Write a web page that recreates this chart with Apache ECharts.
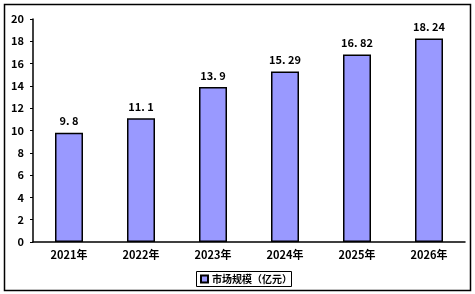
<!DOCTYPE html>
<html><head><meta charset="utf-8">
<script src="https://cdn.jsdelivr.net/npm/echarts@6/dist/echarts.min.js"></script>
<style>html,body{margin:0;padding:0;background:#fff}#c{width:475px;height:294px}</style>
</head><body><div id="c"></div>
<script>
const categories = ['2021年','2022年','2023年','2024年','2025年','2026年'];
const values = [9.8, 11.1, 13.9, 15.29, 16.82, 18.24];
const labels = ['9. 8','11. 1','13. 9','15. 29','16. 82','18. 24'];
const seriesName = '市场规模（亿元）';
const font = '"Noto Sans CJK SC", "DejaVu Sans", sans-serif';
const chart = echarts.init(document.getElementById('c'), null, {renderer:'canvas'});
chart.setOption({
  animation:false,
  graphic:[
    {type:'rect', shape:{x:4.5,y:4.5,width:466,height:286}, style:{fill:null, stroke:'#000', lineWidth:1.5}, z:-1},
    {type:'rect', shape:{x:196.5,y:271.5,width:95,height:15}, style:{fill:null, stroke:'#000', lineWidth:1}, z:-1}
  ],
  grid:{left:33, right:10, top:19, bottom:52},
  legend:{
    data:[seriesName], left:200, top:272, itemWidth:7, itemHeight:7, itemGap:4, padding:[2,0,0,0],
    icon:'rect',
    textStyle:{fontSize:10, fontWeight:'bold', color:'#000', fontFamily:font, padding:[0,0,0,-1]}
  },
  xAxis:{
    type:'category', data:categories,
    axisLine:{lineStyle:{color:'#000', width:1.5}},
    axisTick:{inside:true, length:3, lineStyle:{color:'#000'}},
    axisLabel:{fontSize:11, fontWeight:'bold', color:'#000', fontFamily:font, margin:7}
  },
  yAxis:{
    type:'value', min:0, max:20, interval:2,
    splitLine:{show:false},
    axisLine:{show:true, lineStyle:{color:'#000', width:1.5}},
    axisTick:{show:true, length:3, lineStyle:{color:'#000'}},
    axisLabel:{fontSize:11, fontWeight:'bold', color:'#000', fontFamily:font, margin:9}
  },
  series:[{
    name:seriesName, type:'bar', data:values, barWidth:28,
    itemStyle:{color:'#9999ff', borderColor:'#000', borderWidth:1.5},
    label:{show:true, position:'top', distance:6, fontSize:11, fontWeight:'bold', color:'#000', fontFamily:font,
      formatter:p=>labels[p.dataIndex]}
  }]
});
</script></body></html>
